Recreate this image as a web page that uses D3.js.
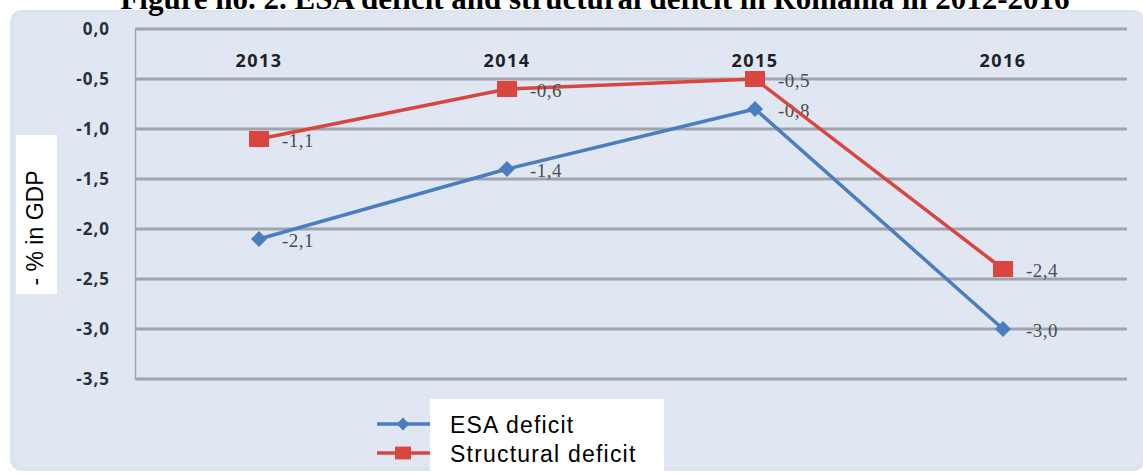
<!DOCTYPE html>
<html>
<head>
<meta charset="utf-8">
<script src="https://cdn.jsdelivr.net/npm/d3@7"></script>
<style>
  body { margin: 0; background: #fff; }
  svg { display: block; }
</style>
</head>
<body>
<div id="chart"></div>
<script>
const years = ["2013", "2014", "2015", "2016"];
const esaDeficit = [-2.1, -1.4, -0.8, -3.0];
const structuralDeficit = [-1.1, -0.6, -0.5, -2.4];
const yTicks = [0, -0.5, -1.0, -1.5, -2.0, -2.5, -3.0, -3.5];

const width = 1143, height = 473;
const plot = { left: 135, right: 1127, top: 29, bottom: 379 };

const svg = d3.select("#chart").append("svg")
    .attr("width", width)
    .attr("height", height);

// panel background
svg.append("rect")
    .attr("x", 10).attr("y", 10)
    .attr("width", width - 8).attr("height", height - 12)
    .attr("rx", 12)
    .attr("fill", "#dde3ee");
svg.append("rect")
    .attr("x", 14).attr("y", 12)
    .attr("width", width - 14).attr("height", height - 18)
    .attr("rx", 10)
    .attr("fill", "#e1e7f2");

// title (cut off at the top in the original)
svg.append("text")
    .attr("x", 595).attr("y", 9)
    .attr("text-anchor", "middle")
    .style("font-family", "'Liberation Serif', 'Times New Roman', serif")
    .style("font-weight", "bold")
    .style("font-size", "31px")
    .attr("fill", "#000")
    .text("Figure no. 2. ESA deficit and structural deficit in Romania in 2012-2016");

const x = d3.scaleBand().domain(years).range([plot.left, plot.right]);
const y = d3.scaleLinear().domain([0, -3.5]).range([plot.top, plot.bottom]);

const fmt = d => d3.format(".1f")(d).replace("−", "-").replace(".", ",");
const cx = d => x(d) + x.bandwidth() / 2;

// gridlines
svg.append("g")
    .selectAll("line")
    .data(yTicks)
    .join("line")
    .attr("x1", plot.left).attr("x2", plot.right)
    .attr("y1", d => y(d)).attr("y2", d => y(d))
    .attr("stroke", "#a0a5ad")
    .attr("stroke-width", 3);

// y axis
const yAxis = svg.append("g")
    .attr("transform", `translate(${plot.left},0)`)
    .call(d3.axisLeft(y).tickValues(yTicks).tickSize(0).tickPadding(25).tickFormat(fmt));
yAxis.select(".domain").attr("stroke", "#a0a5ad").attr("stroke-width", 1.5);
yAxis.selectAll("text")
    .style("font-family", "'Open Sans', sans-serif")
    .style("font-weight", "bold")
    .style("font-size", "17px")
    .style("letter-spacing", "1px")
    .attr("fill", "#2a303c");

// category labels at the top of the plot
svg.append("g")
    .selectAll("text")
    .data(years)
    .join("text")
    .attr("x", d => cx(d))
    .attr("y", 67)
    .attr("text-anchor", "middle")
    .style("font-family", "'Open Sans', sans-serif")
    .style("font-weight", "bold")
    .style("font-size", "18px")
    .style("letter-spacing", "1.5px")
    .attr("fill", "#1e2228")
    .text(d => d);

const series = [
    { name: "ESA deficit", values: esaDeficit, color: "#4a7ebf", marker: "diamond" },
    { name: "Structural deficit", values: structuralDeficit, color: "#d9453f", marker: "square" }
];

const line = d3.line().x(d => cx(d.year)).y(d => y(d.value));

function marker(g, type, color) {
    if (type === "diamond") {
        g.append("path")
            .attr("d", "M0,-8L8,0L0,8L-8,0Z")
            .attr("fill", color);
    } else {
        g.append("rect")
            .attr("x", -10).attr("y", -8)
            .attr("width", 20).attr("height", 16)
            .attr("fill", color);
    }
}

series.forEach(s => {
    const pts = years.map((yr, i) => ({ year: yr, value: s.values[i] }));
    svg.append("path")
        .datum(pts)
        .attr("fill", "none")
        .attr("stroke", s.color)
        .attr("stroke-width", 3.5)
        .attr("d", line);
    svg.append("g").selectAll("g")
        .data(pts)
        .join("g")
        .attr("transform", d => `translate(${cx(d.year)},${y(d.value)})`)
        .each(function() { marker(d3.select(this), s.marker, s.color); });
    svg.append("g").selectAll("text")
        .data(pts)
        .join("text")
        .attr("x", d => cx(d.year) + 23)
        .attr("y", d => y(d.value) + 8)
        .style("font-family", "'Liberation Serif', 'Times New Roman', serif")
        .style("font-size", "19px")
        .style("letter-spacing", "0.5px")
        .attr("fill", "#4a4d52")
        .text(d => fmt(d.value));
});

// y axis title box
svg.append("rect")
    .attr("x", 16).attr("y", 135)
    .attr("width", 41).attr("height", 159)
    .attr("fill", "#fff");
svg.append("text")
    .attr("transform", "translate(43,228) rotate(-90)")
    .attr("text-anchor", "middle")
    .style("font-family", "'Liberation Sans', Arial, sans-serif")
    .style("font-size", "23px")
    .attr("fill", "#000")
    .text("- % in GDP");

// legend
svg.append("rect")
    .attr("x", 430).attr("y", 399)
    .attr("width", 234).attr("height", 74)
    .attr("fill", "#fff");
const legend = svg.append("g");
series.forEach((s, i) => {
    const ly = 424 + i * 29;
    legend.append("line")
        .attr("x1", 377).attr("x2", 430)
        .attr("y1", ly).attr("y2", ly)
        .attr("stroke", s.color)
        .attr("stroke-width", 3.5);
    const m = legend.append("g").attr("transform", `translate(403,${ly}) scale(0.8)`);
    marker(m, s.marker, s.color);
    legend.append("text")
        .attr("x", 450).attr("y", ly + 9)
        .style("font-family", "'Liberation Sans', Arial, sans-serif")
        .style("font-size", "23px")
        .style("letter-spacing", "1.2px")
        .attr("fill", "#000")
        .text(s.name);
});
</script>
</body>
</html>
